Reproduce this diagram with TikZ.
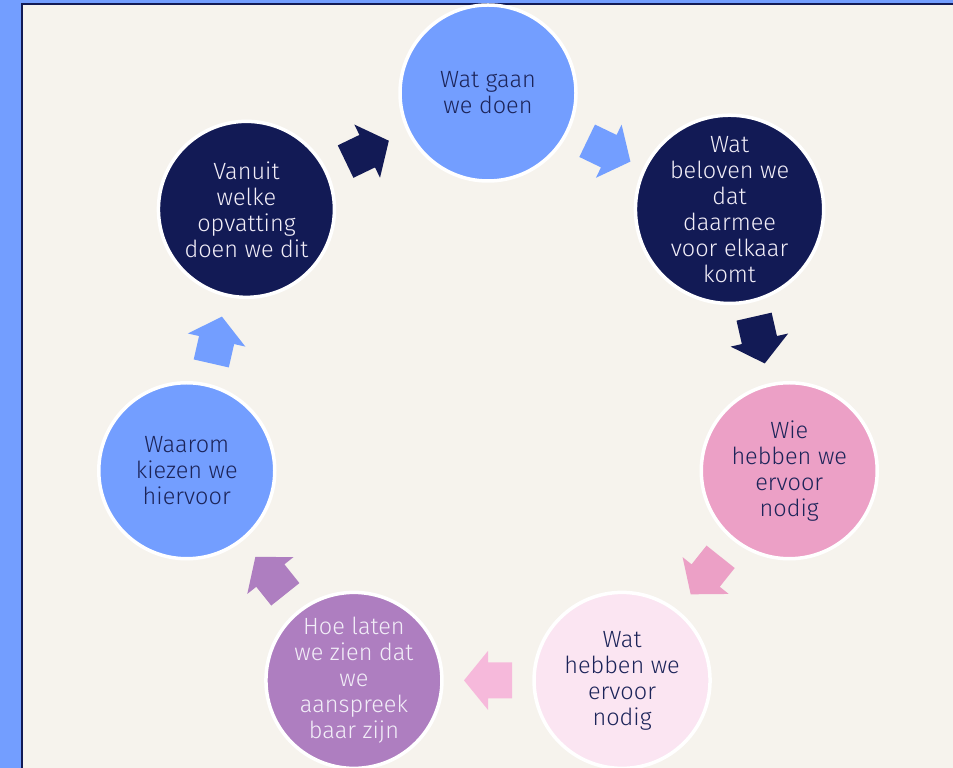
\documentclass[tikz,border=0pt]{standalone}
\usepackage{fontspec}
\setmainfont{Fira Sans}[UprightFont={* Light}]
\usetikzlibrary{calc}
\definecolor{cream}{HTML}{F6F3ED}
\definecolor{lblue}{HTML}{739EFF}
\definecolor{navy}{HTML}{121A55}
\definecolor{pinkc}{HTML}{ECA0C6}
\definecolor{lpink}{HTML}{FBE5F2}
\definecolor{arrpink}{HTML}{F6B9DB}
\definecolor{purp}{HTML}{AE7EC0}
\definecolor{txtdark}{HTML}{1C2459}
\definecolor{txtlight}{HTML}{F2EEF8}
\tikzset{
  stepcircle/.style={circle, minimum size=176pt, inner sep=0pt, draw=white,
    line width=3.5pt, align=center, font=\fontsize{23.5}{26}\selectfont},
  darktext/.style={text=txtdark},
  lighttext/.style={text=txtlight}
}
\newcommand\blockarr[4]{%
  \fill[#3, shift={($(#1)!0.5!(#2)$)}, rotate=#4]
    (-24,-18) -- (0,-18) -- (0,-29.5) -- (24,0) -- (0,29.5) -- (0,18) -- (-24,18) -- cycle;}
\begin{document}
\begin{tikzpicture}[x=1pt,y=1pt]
\useasboundingbox (0,0) rectangle (953,768);
\fill[cream] (0,0) rectangle (953,768);
\fill[lblue] (0,0) rectangle (21,768);
\fill[lblue] (0,765) rectangle (953,768);
\draw[navy, line width=2pt] (22,-5) -- (22,764) -- (960,764);
\coordinate (c) at (488,366);
\node[stepcircle, fill=lblue, darktext] (n1) at ($(c)+(90:309)$) {Wat gaan\\we doen};
\node[stepcircle, fill=navy, lighttext] (n2) at ($(c)+(38.571:309)$) {Wat\\beloven we\\dat\\daarmee\\voor elkaar\\komt};
\node[stepcircle, fill=pinkc, darktext] (n3) at ($(c)+(-12.857:309)$) {Wie\\hebben we\\ervoor\\nodig};
\node[stepcircle, fill=lpink, darktext] (n4) at ($(c)+(-64.286:309)$) {Wat\\hebben we\\ervoor\\nodig};
\node[stepcircle, fill=purp, lighttext] (n5) at ($(c)+(-115.714:309)$) {Hoe laten\\we zien dat\\we\\aanspreek\\baar zijn};
\node[stepcircle, fill=lblue, darktext] (n6) at ($(c)+(-167.143:309)$) {Waarom\\kiezen we\\hiervoor};
\node[stepcircle, fill=navy, lighttext] (n7) at ($(c)+(141.429:309)$) {Vanuit\\welke\\opvatting\\doen we dit};
\blockarr{n1}{n2}{lblue}{-25.714}
\blockarr{n2}{n3}{navy}{-77.143}
\blockarr{n3}{n4}{pinkc}{-128.571}
\blockarr{n4}{n5}{arrpink}{180}
\blockarr{n5}{n6}{purp}{128.571}
\blockarr{n6}{n7}{lblue}{77.143}
\blockarr{n7}{n1}{navy}{25.714}
\end{tikzpicture}
\end{document}
